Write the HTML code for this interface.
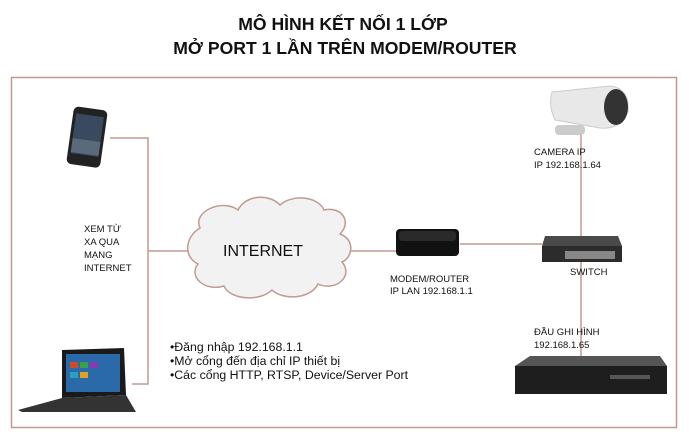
<!DOCTYPE html>
<html><head><meta charset="utf-8"><style>
html,body{margin:0;padding:0;background:#fff;}
svg{display:block;font-family:"Liberation Sans",Arial,sans-serif;}
</style></head><body>
<svg width="689" height="443" viewBox="0 0 689 443" xmlns="http://www.w3.org/2000/svg">
<rect width="689" height="443" fill="#fff"/>
<text x="343" y="30" text-anchor="middle" font-size="17.6" font-weight="bold" fill="#111">MÔ HÌNH KẾT NỐI 1 LỚP</text>
<text x="345" y="54" text-anchor="middle" font-size="17.6" font-weight="bold" fill="#111">MỞ PORT 1 LẦN TRÊN MODEM/ROUTER</text>
<rect x="11.5" y="77.5" width="665" height="350" fill="none" stroke="#c09a90" stroke-width="1.5"/>
<g stroke="#c09a90" stroke-width="1.5" fill="none">
<polyline points="110,138 148,138 148,384 132,384"/>
<line x1="148" y1="251" x2="192" y2="251"/>
<line x1="348" y1="251" x2="396" y2="251"/>
<line x1="460" y1="244" x2="542" y2="244"/>
<line x1="581" y1="132" x2="581" y2="360"/>
</g>
<!-- phone -->
<g transform="rotate(8 86 137)">
<rect x="70" y="108" width="34" height="58" rx="5" fill="#222"/>
<rect x="73" y="115" width="28" height="40" fill="#3a4a5e"/>
<rect x="73" y="140" width="28" height="14" fill="#5a6a7a"/>
</g>
<!-- cloud -->
<path d="M200,228 C192,212 222,198 238,210 C246,194 270,194 280,205 C292,194 318,196 324,210 C342,206 352,222 340,234 C356,240 352,258 342,262 C354,276 336,292 318,284 C310,300 282,300 272,290 C260,302 230,300 224,286 C204,292 188,276 198,264 C182,256 186,236 200,228 Z" fill="#f2f2f2" stroke="#c09a90" stroke-width="1.5"/>
<text x="263" y="256" text-anchor="middle" font-size="16" fill="#111">INTERNET</text>
<!-- texts -->
<g font-size="9.5" fill="#111">
<text x="84" y="232">XEM TỪ</text>
<text x="84" y="245">XA QUA</text>
<text x="84" y="258">MẠNG</text>
<text x="84" y="271">INTERNET</text>
<text x="390" y="282">MODEM/ROUTER</text>
<text x="390" y="294">IP LAN 192.168.1.1</text>
<text x="570" y="275">SWITCH</text>
<text x="534" y="155">CAMERA IP</text>
<text x="534" y="168">IP 192.168.1.64</text>
<text x="534" y="335">ĐẦU GHI HÌNH</text>
<text x="534" y="348">192.168.1.65</text>
</g>
<g font-size="12.3" fill="#111">
<text x="170" y="351">•Đăng nhập 192.168.1.1</text>
<text x="170" y="365">•Mở cổng đến địa chỉ IP thiết bị</text>
<text x="170" y="379">•Các cổng HTTP, RTSP, Device/Server Port</text>
</g>
<!-- laptop -->
<polygon points="62,350 124,348 126,395 62,398" fill="#1a1a1a"/>
<rect x="66" y="354" width="54" height="38" fill="#2a6aa8"/>
<rect x="70" y="362" width="8" height="6" fill="#d04a2a"/><rect x="80" y="362" width="8" height="6" fill="#3aa04a"/><rect x="90" y="362" width="8" height="6" fill="#8a3ab0"/><rect x="70" y="372" width="8" height="6" fill="#2aa0c0"/><rect x="80" y="372" width="8" height="6" fill="#e0a020"/>
<polygon points="62,398 126,395 136,412 22,412 18,410" fill="#333"/>
<!-- router -->
<rect x="396" y="229" width="63" height="27" rx="4" fill="#111"/>
<rect x="399" y="231" width="57" height="10" rx="3" fill="#2a2a2a"/>
<!-- switch -->
<polygon points="545,236 618,236 622,246 542,246" fill="#4a4a4a"/>
<rect x="542" y="246" width="80" height="16" fill="#2c2c2c"/>
<rect x="565" y="251" width="50" height="8" fill="#888"/>
<!-- camera -->
<rect x="555" y="125" width="30" height="10" rx="4" fill="#ccc"/>
<path d="M552,92 L610,86 Q630,88 628,112 Q620,130 600,128 L555,120 Q548,105 552,92 Z" fill="#e8e8e8" stroke="#ccc"/>
<ellipse cx="616" cy="107" rx="12" ry="18" fill="#333"/>
<!-- dvr -->
<polygon points="530,356 660,356 667,366 515,366" fill="#555"/>
<rect x="515" y="366" width="152" height="28" fill="#1e1e1e"/>
<rect x="610" y="375" width="40" height="4" fill="#555"/>
</svg>
</body></html>
